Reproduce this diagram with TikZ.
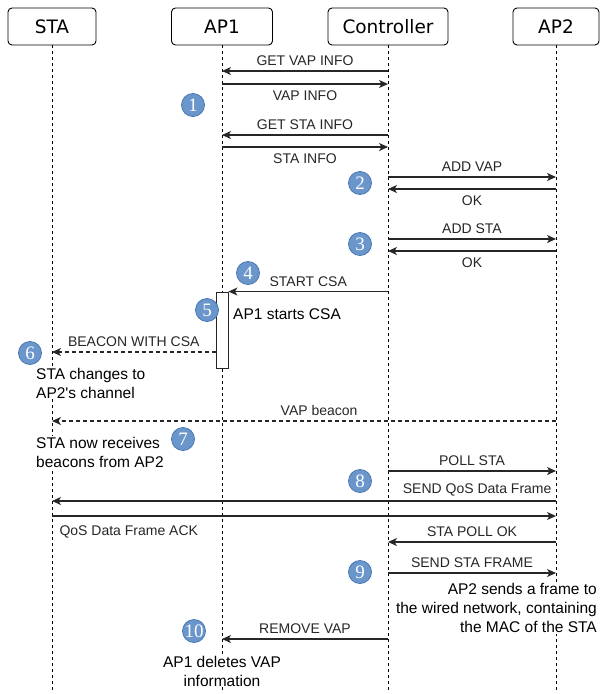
\documentclass[tikz,border=0pt]{standalone}
\usepackage{fontspec}
\setmainfont{Liberation Sans}
\newfontfamily\headfont{DejaVu Sans}
\newfontfamily\numfont{Liberation Serif}
\usetikzlibrary{arrows.meta}

\definecolor{dotblue}{HTML}{6A96CC}
\definecolor{dotrim}{HTML}{4A78B2}

\begin{document}
\begin{tikzpicture}
  [x=1pt,y=-1pt,
   head/.style={draw=black,line width=.9pt,rounded corners=4pt,minimum height=37pt,inner sep=0pt,
     font=\headfont\fontsize{18.5}{20}\selectfont},
   life/.style={dash pattern=on 3pt off 3pt,line width=1pt,black},
   msg/.style={line width=1.1pt,black!85,-{Stealth[length=9pt,width=8pt,inset=2.5pt]}},
   lbl/.style={font=\fontsize{14}{16}\selectfont,inner sep=1pt},
   note/.style={font=\fontsize{15.5}{19}\selectfont,fill=white,inner sep=1pt,align=left},
   stepdot/.style={circle,fill=dotblue,draw=dotrim,line width=.8pt,minimum size=23pt,
     inner sep=0pt,text=white,font=\numfont\fontsize{19}{19}\selectfont}]
  \useasboundingbox (0,0) rectangle (600,694);

  % lifeline heads
  \node[head,minimum width=88pt]  (sta)  at (52,26.5)  {STA};
  \node[head,minimum width=101pt] (ap1)  at (222,26.5) {AP1};
  \node[head,minimum width=120pt] (ctrl) at (388,26.5) {Controller};
  \node[head,minimum width=86pt]  (ap2)  at (556,26.5) {AP2};

  \foreach \n in {sta,ap1,ctrl,ap2}
    \draw[life] (\n) ++(0,18.5) -- (\n |- 0,692);

  % activation of AP1 during CSA
  \node[draw=black!85,fill=white,line width=.9pt,minimum width=12pt,minimum height=76pt,
    inner sep=0pt] (act) at (222,330) {};

  % messages, label above
  \foreach \y/\from/\to/\txt in {71/ctrl/ap1/GET VAP INFO, 135/ctrl/ap1/GET STA INFO,
      177/ctrl/ap2/ADD VAP, 239/ctrl/ap2/ADD STA, 471/ctrl/ap2/POLL STA,
      542/ap2/ctrl/STA POLL OK, 573/ctrl/ap2/SEND STA FRAME, 639/ctrl/ap1/REMOVE VAP}
    \draw[msg] (\from |- 0,\y) -- (\to |- 0,\y) node[lbl,midway,above=4pt] {\txt};

  % messages, label below
  \foreach \y/\from/\to/\txt in {84/ap1/ctrl/VAP INFO, 147/ap1/ctrl/STA INFO,
      189/ap2/ctrl/OK, 251/ap2/ctrl/OK}
    \draw[msg] (\from |- 0,\y) -- (\to |- 0,\y) node[lbl,midway,below=5pt] {\txt};

  \draw[msg] (ctrl |- act.north) -- (act.north east) node[lbl,midway,above=3pt] {START CSA};
  \draw[msg,dash pattern=on 4pt off 3pt] (act.west |- 0,352) -- (sta |- 0,352)
    node[lbl,midway,above=4pt] {BEACON WITH CSA};
  \draw[msg,dash pattern=on 4pt off 3pt] (ap2 |- 0,421) -- (sta |- 0,421)
    node[lbl,pos=.47,above=4pt] {VAP beacon};
  \draw[msg] (ap2 |- 0,501) -- (sta |- 0,501)
    node[lbl,pos=0,anchor=south east,xshift=-3pt,yshift=3pt] {SEND QoS Data Frame};
  \draw[msg] (sta |- 0,516) -- (ap2 |- 0,516)
    node[lbl,pos=0,anchor=north west,xshift=6pt,yshift=-8pt] {QoS Data Frame ACK};

  % notes
  \node[note,anchor=west] (n5) at (232,314) {AP1 starts CSA};
  \node[note,anchor=west] (n6) at (35,383) {STA changes to\\AP2\textquotesingle s channel};
  \node[note,anchor=west] (n7) at (35,452) {STA now receives\\beacons from AP2};
  \node[note,anchor=east,align=right] (n9) at (598,608)
    {AP2 sends a frame to\\the wired network, containing\\the MAC of the STA};
  \node[note,align=center] (n10) at (222,671) {AP1 deletes VAP\\information};

  % numbered steps
  \foreach \n/\x/\y in {1/193/105, 2/360/183, 3/360/244, 4/248/273, 5/207/310,
      6/30/353, 7/183/439, 8/360/481, 9/360/572, 10/194/631}
    \node[stepdot] (s\n) at (\x,\y) {\n};
\end{tikzpicture}
\end{document}
